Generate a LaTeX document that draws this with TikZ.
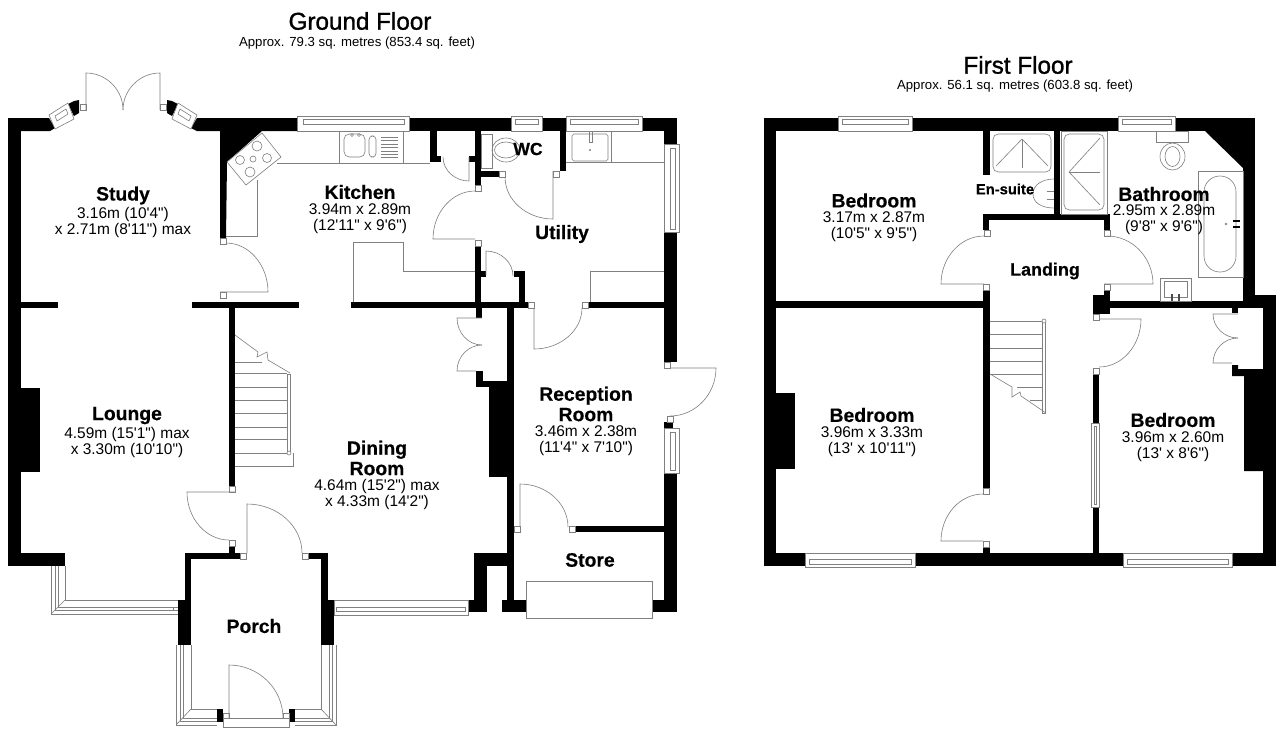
\documentclass[tikz,border=0pt]{standalone}
\usepackage{fontspec}
\usetikzlibrary{calc}
\newfontfamily\planfont{Liberation Sans}
\newfontfamily\planhead[FakeBold=1.2]{Liberation Sans}
\newfontfamily\planbold[FakeBold=0.4]{Liberation Sans Bold}
\tikzset{
  fitting/.style={draw=black!50,line width=0.35pt},
  jambbox/.style={draw=black!50,fill=white,line width=0.35pt},
  roomname/.style={font=\planbold\fontsize{11}{11.6}\selectfont,align=center,inner sep=0pt},
  roomsize/.style={font=\planfont\fontsize{8.8}{9.1}\selectfont,align=center,inner sep=0pt},
  floorname/.style={font=\planhead\fontsize{13.8}{15}\selectfont,inner sep=0pt},
  floorarea/.style={font=\planfont\fontsize{7.5}{9}\selectfont,inner sep=0pt}
}
% hinge, leaf tip, corner, end of swing
\newcommand{\door}[8]{\draw[fitting] (#1,#2) -- (#3,#4) .. controls ($(#3,#4)!.55!(#5,#6)$) and ($(#7,#8)!.55!(#5,#6)$) .. (#7,#8);}
% outer box, then the band of the sash
\newcommand{\pane}[8]{\draw[jambbox] (#1,#2) rectangle (#3,#4); \draw[fitting] (#5,#6) rectangle (#7,#8);}

\begin{document}
\begin{tikzpicture}[x=0.02cm,y=-0.02cm]
  \useasboundingbox (0,0) rectangle (1280,731);
  \fill[white] (0,0) rectangle (1280,731);

  % ground floor walls
  \foreach \a/\b/\c/\d in {8/118/21/566, 8/553/65/566, 21/388/40/472, 21/302/58/308, 192/302/299/308,
      229/302/235/486, 229/547/235/553, 185/553/240/559, 185/553/191/645, 178/600/191/645,
      309/553/328/559, 321/553/328/645, 321/600/334/645, 298/118/511/131, 511/118/566/131,
      566/118/677/131, 664/118/677/144, 664/232/677/362, 664/422/673/428, 664/473/677/612,
      652/600/677/612, 502/600/526/612, 507/302/514/612, 474/553/514/566, 474/553/487/612,
      468/600/487/612, 489/382/508/477, 476/381/508/387, 476/371/483/387, 351/302/528/308,
      588/302/664/308, 476/302/482/318, 475/131/481/185, 475/245/481/302, 481/171/499/177,
      560/131/566/171, 430/131/437/162, 430/156/441/162, 469/156/475/162, 481/271/486/277,
      514/271/525/277, 519/271/525/302, 575/526/664/532, 217/709/223/722, 289/709/295/722}
    \fill (\a,\b) rectangle (\c,\d);
  \fill (8,118) -- (49,118) -- (55,128) -- (50,131) -- (21,131) -- (8,131) -- cycle;
  \fill (197,118) -- (298,118) -- (298,131) -- (262,131) -- (227,162) -- (226,238) -- (220,238) -- (220,131) -- (197,131) -- (191,128) -- cycle;
  \fill (68,104) -- (74,101) -- (79,100) -- (79,113) -- (74,116) -- cycle;
  \fill (178,104) -- (172,101) -- (167,100) -- (167,113) -- (172,116) -- cycle;

  % first floor walls
  \foreach \a/\b/\c/\d in {764/118/1255/131, 764/118/776/566, 764/553/1276/566, 776/393/795/469,
      776/301/990/308, 983/290/990/488, 983/547/990/553, 983/131/990/175, 1054/131/1060/220,
      983/214/1110/220, 983/214/989/230, 1104/214/1110/230, 1104/290/1110/314, 1093/295/1110/314,
      1093/374/1099/553, 1110/301/1276/308, 1263/295/1276/566, 1243/118/1255/301, 1255/295/1276/301,
      1232/308/1238/313}
    \fill (\a,\b) rectangle (\c,\d);
  \fill (1205,131) -- (1243,131) -- (1243,168) -- cycle;
  \fill (1232,365) -- (1238,365) -- (1238,369) -- (1263,369) -- (1263,471) -- (1244,471) -- (1244,376) -- (1232,376) -- cycle;

  % door jambs
  \foreach \a/\b in {80/104, 160/104, 220/238, 220/292, 229/486, 229/540, 240/553, 302/553,
      223/713, 283/713, 475/185, 475/240, 499/171, 553/171, 528/302, 582/302, 664/362, 667/416,
      514/526, 569/526, 983/284, 983/488, 983/541, 984/230, 1104/230, 1104/284, 1093/314, 1093/368}
    \draw[jambbox] (\a,\b) rectangle +(6,6);

  % doors
  \door{86}{110}{86}{73}{123}{73}{123}{110}
  \door{160}{110}{160}{73}{123}{73}{123}{110}
  \door{220}{292}{268}{292}{268}{243}{226}{243}
  \door{235}{492}{187}{492}{187}{540}{229}{540}
  \door{247}{553}{247}{504}{302}{504}{302}{553}
  \door{229}{718}{229}{665}{283}{665}{283}{718}
  \door{482}{318}{457}{318}{457}{345}{482}{345}
  \door{476}{371}{457}{371}{457}{345}{482}{345}
  \door{475}{239}{433}{239}{433}{191}{475}{191}
  \door{553}{171}{553}{219}{505}{219}{505}{177}
  \door{469}{157}{469}{181}{443}{181}{443}{157}
  \door{486}{275}{486}{251}{513}{251}{513}{276}
  \door{534}{308}{534}{349}{582}{349}{582}{308}
  \door{670}{368}{716}{368}{716}{416}{670}{416}
  \door{520}{526}{520}{484}{568}{484}{568}{527}
  \door{983}{541}{941}{541}{941}{494}{983}{494}
  \door{984}{284}{941}{284}{941}{236}{984}{236}
  \door{1104}{284}{1153}{284}{1153}{236}{1107}{236}
  \door{1100}{319}{1141}{319}{1141}{367}{1099}{367}
  \door{1238}{314}{1213}{314}{1213}{338}{1238}{338}
  \door{1232}{363}{1213}{363}{1213}{338}{1238}{338}
  \draw[jambbox] (223,718) rectangle (289,727);

  % straight windows
  \pane{297}{116}{409}{131}{303}{119}{404}{124}
  \pane{511}{116}{542}{131}{515}{119}{538}{124}
  \pane{566}{116}{642}{131}{570}{119}{638}{124}
  \pane{664}{144}{679}{232}{670}{148}{675}{229}
  \pane{664}{428}{679}{473}{670}{432}{675}{470}
  \pane{334}{600}{468}{615}{336}{607}{465}{611}
  \pane{838}{116}{912}{131}{842}{119}{908}{124}
  \pane{1118}{116}{1175}{131}{1122}{119}{1171}{124}
  \pane{805}{553}{915}{567}{809}{559}{911}{564}
  \pane{1123}{553}{1232}{567}{1127}{559}{1228}{564}
  \pane{1091}{423}{1099}{507}{1094}{426}{1096}{504}
  \draw[jambbox] (526,581) rectangle (652,618);

  % bay windows
  \draw[jambbox] (49,115) -- (68,103) -- (74,119) -- (55,129) -- cycle;
  \draw[fitting] (55,116) -- (66,109) -- (68,114) -- (57,121) -- cycle;
  \draw[jambbox] (197,115) -- (178,103) -- (172,119) -- (191,129) -- cycle;
  \draw[fitting] (191,116) -- (180,109) -- (178,114) -- (189,121) -- cycle;
  \foreach \u/\v in {51/614, 55/610, 58/607, 65/600}
    \draw[fitting] (\u,566) -- (\u,\v) -- (178,\v);
  \draw[fitting] (51,614) -- (65,600);
  \draw[fitting] (173,607) -- (173,610);
  \foreach \u/\v in {176/725, 180/721, 183/718, 191/709}
    \draw[fitting] (\u,645) -- (\u,\v) -- (217,\v);
  \foreach \u/\v in {336/725, 332/721, 329/718, 321/709}
    \draw[fitting] (\u,645) -- (\u,\v) -- (295,\v);
  \draw[fitting] (176,725) -- (191,709);
  \draw[fitting] (336,725) -- (321,709);

  % kitchen units and hob
  \draw[fitting] (257,180) -- (257,236) -- (226,236);
  \draw[fitting] (277,163) -- (430,163);
  \draw[fitting] (339,131) -- (339,163);
  \draw[fitting] (403,131) -- (403,163);
  \draw[jambbox] (227,162) -- (262,133) -- (281,157) -- (246,185) -- cycle;
  \foreach \u/\v/\r in {257/146/5, 240/160/4.5, 253/159/3, 267/158/4.5, 250/172/5}
    \draw[fitting] (\u,\v) circle[radius=\r];
  \draw[fitting,rounded corners=3pt] (344,134) rectangle (365,157);
  \draw[fitting,rounded corners=2pt] (369,136) rectangle (376,157);
  \foreach \v in {137,140,144,147,151,154,157}
    \draw[fitting] (381,\v) -- (398,\v);
  \foreach \u in {352,359}
    \draw[fitting] (\u,135) circle[radius=1.5];
  \draw[fitting] (353,302) -- (353,242) -- (403,242) -- (403,271) -- (475,271);

  % utility and wc
  \draw[fitting] (566,162) -- (664,162);
  \draw[fitting] (611,131) -- (611,162);
  \draw[fitting,rounded corners=1pt] (572,134) rectangle (608,161);
  \draw[fitting] (589,131) rectangle (592,142);
  \draw[fitting] (590,150) circle[radius=0.6];
  \draw[fitting] (590,302) -- (590,271) -- (664,271);
  \draw[fitting] (481,134) rectangle (492,168);
  \draw[fitting] (506,150) ellipse[x radius=14,y radius=12];
  \draw[fitting] (506,150) ellipse[x radius=11.5,y radius=8];

  % ground floor stairs
  \foreach \v in {373,387,400,413,427,439,453}
    \draw[fitting] (235,\v) -- (287,\v);
  \draw[fitting] (235,362) -- (262,362);
  \draw[fitting] (235,466) -- (293,466) -- (293,453);
  \draw[fitting] (287,374) rectangle (290,453);
  \draw[jambbox] (289,453) circle[radius=2];
  \draw[fitting] (235,335) -- (258,352) -- (257,357) -- (267,352) -- (268,360) -- (290,373);

  % en-suite and bathroom
  \draw[fitting,rounded corners=3pt] (993,134) rectangle (1051,172);
  \draw[fitting] (996,166) -- (1022,139) -- (1048,166);
  \draw[fitting] (1022,139) -- (1022,168);
  \draw[fitting] (1033,194) .. controls (1033,185) and (1042,179) .. (1054,179);
  \draw[fitting] (1033,194) .. controls (1033,203) and (1042,208) .. (1054,208);
  \foreach \v in {191,199}
    \draw[fitting] (1047,\v) -- (1054,\v);
  \draw[fitting] (1061,131) rectangle (1107,214);
  \draw[fitting,rounded corners=3pt] (1064,134) rectangle (1104,210);
  \draw[fitting] (1100,138) -- (1069,172) -- (1100,205);
  \draw[fitting] (1069,172) -- (1100,172);
  \draw[fitting] (1156,131) rectangle (1188,142);
  \draw[fitting] (1172.5,156.5) ellipse[x radius=12.5,y radius=13.5];
  \draw[fitting] (1172.5,156.5) ellipse[x radius=7.5,y radius=10];
  \draw[fitting] (1198,171) rectangle (1243,277);
  \draw[fitting,rounded corners=9pt] (1204,176) rectangle (1236,272);
  \draw[fitting] (1226,224) circle[radius=1];
  \foreach \v in {221,227}
    \draw[thick] (1233,\v) -- (1240,\v);
  \draw[fitting] (1160,278) rectangle (1191,301);
  \draw[fitting] (1164,281) rectangle (1187,297);
  \foreach \u in {1172,1179}
    \draw[thick,black!70] (\u,294) -- (\u,301);

  % first floor stairs
  \foreach \v in {321,334,348,361,374}
    \draw[fitting] (990,\v) -- (1042,\v);
  \draw[fitting] (1017,387) -- (1042,387);
  \draw[fitting] (1030,400) -- (1042,400);
  \draw[fitting] (1042,321) rectangle (1045,413);
  \draw[jambbox] (1044,321) circle[radius=2];
  \draw[fitting] (990,374) -- (1012,387) -- (1012,397) -- (1020,392) -- (1021,396) -- (1046,413);

  % labels
  \node[floorname] (groundtitle) at (360,21) {Ground Floor};
  \node[floorarea] (groundarea) at (357,43) {Approx. 79.3 sq. metres (853.4 sq. feet)};
  \node[floorname] (firsttitle) at (1018,65) {First Floor};
  \node[floorarea] (firstarea) at (1015,86) {Approx. 56.1 sq. metres (603.8 sq. feet)};

  \node[roomname] (study) at (123,195.5) {Study};
  \node[roomsize] (studysize) at (123,222) {3.16m (10'4")\\x 2.71m (8'11") max};
  \node[roomname] (kitchen) at (360,192) {Kitchen};
  \node[roomsize] (kitchensize) at (360,219) {3.94m x 2.89m\\(12'11" x 9'6")};
  \node[roomname,font=\planbold\fontsize{10}{11}\selectfont] (wc) at (528,149) {WC};
  \node[roomname] (utility) at (562,234) {Utility};
  \node[roomname] (lounge) at (127,415.5) {Lounge};
  \node[roomsize] (loungesize) at (127,442) {4.59m (15'1") max\\x 3.30m (10'10")};
  \node[roomname] (dining) at (377,458) {Dining\\Room};
  \node[roomsize] (diningsize) at (377,494) {4.64m (15'2") max\\x 4.33m (14'2")};
  \node[roomname] (reception) at (586,404) {Reception\\Room};
  \node[roomsize] (receptionsize) at (586,441) {3.46m x 2.38m\\(11'4" x 7'10")};
  \node[roomname] (store) at (590,560) {Store};
  \node[roomname] (porch) at (254,626) {Porch};

  \node[roomname] (bedroomone) at (874,200.5) {Bedroom};
  \node[roomsize] (bedroomonesize) at (874,227) {3.17m x 2.87m\\(10'5" x 9'5")};
  \node[roomname,font=\planbold\fontsize{8.4}{9}\selectfont] (ensuite) at (1005,189) {En-suite};
  \node[roomname] (bathroom) at (1164,194) {Bathroom};
  \node[roomsize] (bathroomsize) at (1164,220) {2.95m x 2.89m\\(9'8" x 9'6")};
  \node[roomname,font=\planbold\fontsize{10.2}{11}\selectfont] (landing) at (1045,271) {Landing};
  \node[roomname] (bedroomtwo) at (872,415) {Bedroom};
  \node[roomsize] (bedroomtwosize) at (872,442) {3.96m x 3.33m\\(13' x 10'11")};
  \node[roomname] (bedroomthree) at (1173,420) {Bedroom};
  \node[roomsize] (bedroomthreesize) at (1173,447) {3.96m x 2.60m\\(13' x 8'6")};
\end{tikzpicture}
\end{document}
